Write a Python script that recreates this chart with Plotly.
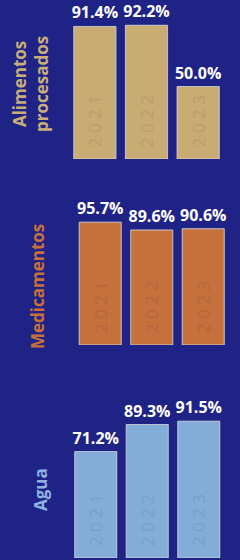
import plotly.graph_objects as go

years = ["2021", "2022", "2023"]
year_labels = ["2 0 2 1", "2 0 2 2", "2 0 2 3"]
categories = ["Alimentos<br>procesados", "Medicamentos", "Agua"]
alimentos = [91.4, 92.2, 50.0]
medicamentos = [95.7, 89.6, 90.6]
agua = [71.2, 89.3, 91.5]
series = [alimentos, medicamentos, agua]

bar_colors = ["#c9ab74", "#c6703b", "#84acd8"]
year_text_colors = ["#b89e72", "#b2683e", "#77a0cc"]
title_colors = ["#c9ae78", "#c8703c", "#8db2e0"]
bg = "#1f2386"

W, H = 240, 560
# pixel layout of each panel: (x_left, x_right, y_top, y_bottom)
panels = [(69, 224, 14, 159), (74.5, 229, 200, 345), (70, 224.5, 413, 558)]
y_max = [100, 113, 97]
title_pos = [(30, 84), (37, 287), (40, 490)]

fig = go.Figure()
for i, vals in enumerate(series):
    n = "" if i == 0 else str(i + 1)
    xa, ya = "x" + n, "y" + n
    fig.add_trace(go.Bar(
        x=years, y=vals, xaxis=xa, yaxis=ya,
        marker=dict(color=bar_colors[i], line=dict(color="rgba(190,185,180,0.55)", width=1)),
        text=[f"{v:.1f}%" for v in vals], textposition="outside",
        textfont=dict(family="Open Sans", size=16, color="white", weight="bold"),
        constraintext="none", cliponaxis=False, hoverinfo="skip", showlegend=False,
    ))
    fig.add_trace(go.Bar(
        x=years, y=vals, xaxis=xa, yaxis=ya,
        marker=dict(color="rgba(0,0,0,0)"),
        text=["\u00a0\u00a0" + t for t in year_labels], textposition="inside",
        insidetextanchor="start", textangle=-90,
        textfont=dict(family="Open Sans", size=17, color=year_text_colors[i]),
        constraintext="none", hoverinfo="skip", showlegend=False,
    ))
    xl, xr, yt, yb = panels[i]
    fig.layout["xaxis" + n] = dict(domain=[xl / W, xr / W], visible=False, anchor=ya, fixedrange=True)
    fig.layout["yaxis" + n] = dict(domain=[1 - yb / H, 1 - yt / H], range=[0, y_max[i]], visible=False,
                                   anchor=xa, fixedrange=True)
    tx, ty = title_pos[i]
    fig.add_annotation(text=categories[i], xref="paper", yref="paper", x=tx / W, y=1 - ty / H,
                       showarrow=False, textangle=-90, xanchor="center", yanchor="middle",
                       font=dict(family="Open Sans", size=17, color=title_colors[i], weight="bold"))

fig.update_layout(
    width=W, height=H, margin=dict(l=0, r=0, t=0, b=0),
    paper_bgcolor=bg, plot_bgcolor=bg, barmode="overlay", bargap=0.184,
)
fig.write_html("out.html", config={"displayModeBar": False},
               post_script="document.body.style.margin='0';document.body.style.overflow='hidden';")
